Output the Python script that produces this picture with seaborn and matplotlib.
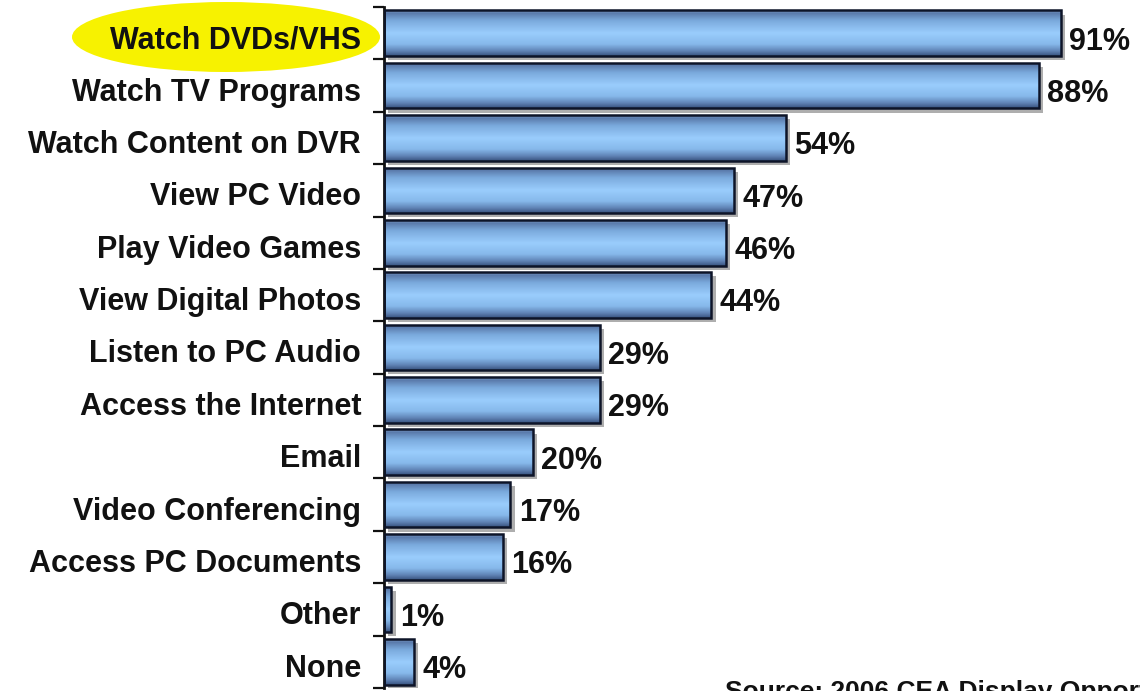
import numpy as np
import matplotlib
matplotlib.use("Agg")
import matplotlib.pyplot as plt
import matplotlib.patheffects as pe
import matplotlib.transforms as mtransforms
from matplotlib.patches import Ellipse, Rectangle
from matplotlib.colors import LinearSegmentedColormap
import seaborn as sns
import pandas as pd

categories = ["Watch DVDs/VHS", "Watch TV Programs", "Watch Content on DVR", "View PC Video",
              "Play Video Games", "View Digital Photos", "Listen to PC Audio", "Access the Internet",
              "Email", "Video Conferencing", "Access PC Documents", "Other", "None"]
values = [91, 88, 54, 47, 46, 44, 29, 29, 20, 17, 16, 1, 4]
value_labels = ["91%", "88%", "54%", "47%", "46%", "44%", "29%", "29%", "20%", "17%", "16%", "1%", "4%"]
source_text = "Source: 2006 CEA Display Opportunities Study"

sns.set_theme(style="white")
plt.rcParams['font.family'] = ['Liberation Sans', 'DejaVu Sans']

df = pd.DataFrame({"cat": categories, "val": values})

fig = plt.figure(figsize=(11.4, 6.91), dpi=100)
ax = fig.add_axes([384/1140, 1 - 688/691, 744/1140, 681/691])

sns.barplot(data=df, x="val", y="cat", orient="h", color="#99ccff", width=0.87,
            edgecolor="none", linewidth=0, ax=ax)

cmap = LinearSegmentedColormap.from_list("bar", [
    (0.0, "#7f9fcc"), (0.06, "#5a7aaa"), (0.22, "#7aa9dc"), (0.5, "#9acdfd"),
    (0.75, "#86b8ea"), (0.9, "#5f82b4"), (1.0, "#3a5480")])
grad = np.linspace(0, 1, 64).reshape(-1, 1)

for p in ax.patches:
    x0, y0 = p.get_x(), p.get_y()
    w, h = p.get_width(), p.get_height()
    p.set_path_effects([pe.SimplePatchShadow(offset=(3, -3), shadow_rgbFace="#9a9a9a", alpha=0.8), pe.Normal()])
    im = ax.imshow(grad, aspect="auto", cmap=cmap, extent=(x0, x0 + w, y0 + h, y0),
                   zorder=2.5, interpolation="bilinear")
    im.set_clip_path(p)
    ax.add_patch(Rectangle((x0, y0), w, h, fill=False, ec="#0d1428", lw=1.8, zorder=3))

ax.set_xlim(0, 100)
ax.set_ylim(len(categories) - 0.5, -0.5)
ax.set_xlabel("")
ax.set_ylabel("")
ax.set_xticks([])

anns = ax.bar_label(ax.containers[0], labels=value_labels, padding=7, fontsize=22,
                    fontweight="bold", color="#111111")
for t in anns:
    t.xyann = (6, -6)

ax.set_yticks(range(len(categories)))
ax.set_yticklabels(categories, fontsize=22, fontweight="bold", color="#111111")
ax.set_yticks(np.arange(-0.5, len(categories), 1), minor=True)
ax.tick_params(axis="y", which="major", length=0, pad=16.5)
ax.tick_params(axis="y", which="minor", length=8, width=1.6, color="#111111", direction="out", left=True)
shift = mtransforms.ScaledTranslation(0, -3.5/100, fig.dpi_scale_trans)
for lab in ax.get_yticklabels():
    lab.set_transform(lab.get_transform() + shift)

for s in ["top", "right", "bottom"]:
    ax.spines[s].set_visible(False)
ax.spines["left"].set_color("#111111")
ax.spines["left"].set_linewidth(2)

ell = Ellipse((226/1140, 1 - 37/691), 308/1140, 70/691, transform=fig.transFigure,
              facecolor="#f7f200", edgecolor="none", zorder=0.5, clip_on=False)
ax.add_artist(ell)

fig.text(725/1140, 1 - 680/691, source_text, fontsize=19, fontweight="bold",
         ha="left", va="top", color="#111111")

fig.savefig("out.png", dpi=100)
